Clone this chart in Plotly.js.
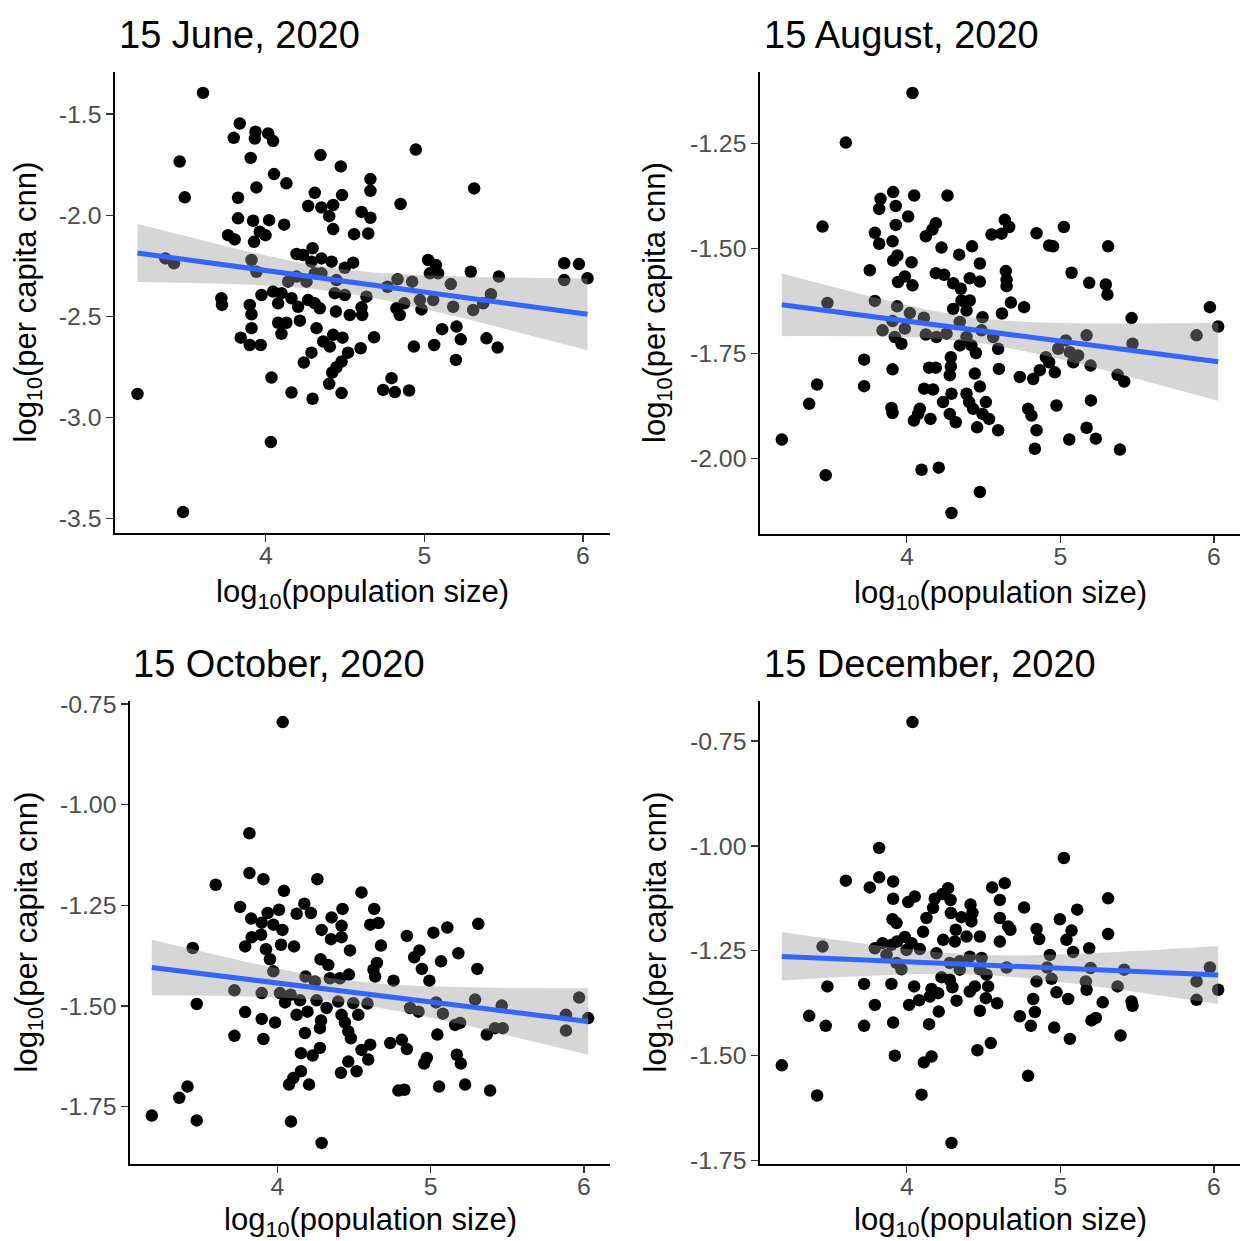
<!DOCTYPE html>
<html><head><meta charset="utf-8">
<script src="https://cdn.plot.ly/plotly-3.0.1.min.js"></script>
<style>html,body{margin:0;padding:0;background:#fff}#chart{width:1241px;height:1241px}</style>
</head><body><div id="chart"></div>
<script>
// ---------------- data ----------------
const panelTitles = ["15 June, 2020", "15 August, 2020", "15 October, 2020", "15 December, 2020"];
const xAxisLabel = "log<sub>10</sub>(population size)";
const yAxisLabel = "log<sub>10</sub>(per capita cnn)";

const juneX = [3.604,3.836,3.798,3.935,3.931,4.015,4.046,3.457,3.905,4.345,
4.473,3.489,4.052,4.130,3.941,3.825,4.309,4.481,4.267,4.351,
4.425,4.400,4.604,3.825,3.920,4.021,4.116,4.425,4.557,3.762,
3.804,3.962,3.998,3.926,3.367,3.421,3.910,3.941,4.194,4.235,
4.295,4.288,4.351,4.415,4.498,4.551,4.194,4.141,4.257,4.309,
4.351,4.446,3.973,4.046,4.099,3.720,3.724,3.899,3.910,4.078,
4.162,4.204,4.267,4.309,4.341,4.435,4.498,4.442,4.530,4.604,
4.078,4.130,4.215,4.099,4.320,3.910,3.842,3.899,3.968,4.362,
4.425,4.484,4.404,4.598,4.288,4.240,4.519,4.478,4.446,4.419,
4.400,4.036,3.191,4.162,4.295,4.478,4.032,3.478,
4.946,4.660,4.660,4.850,5.314,4.660,4.646,5.024,5.073,5.035,
5.087,5.293,5.470,5.882,5.975,5.882,6.029,4.831,4.768,4.923,
5.167,4.635,4.608,4.824,4.873,4.845,4.972,4.982,5.056,5.182,
5.308,5.371,5.420,4.683,4.934,5.062,5.112,5.203,5.230,5.392,
5.462,5.199,4.793,4.740,4.814,4.904];
const juneY = [-1.395,-1.546,-1.617,-1.587,-1.620,-1.595,-1.633,-1.734,-1.716,-1.702,
-1.758,-1.911,-1.796,-1.842,-1.862,-1.913,-1.889,-1.900,-1.954,-1.961,
-1.949,-2.004,-1.983,-2.015,-2.027,-2.024,-2.046,-2.068,-2.093,-2.098,
-2.119,-2.081,-2.098,-2.131,-2.213,-2.237,-2.221,-2.279,-2.191,-2.196,
-2.163,-2.229,-2.213,-2.229,-2.259,-2.234,-2.303,-2.328,-2.328,-2.287,
-2.287,-2.320,-2.394,-2.377,-2.385,-2.410,-2.443,-2.443,-2.489,-2.435,
-2.410,-2.452,-2.419,-2.435,-2.460,-2.385,-2.394,-2.476,-2.493,-2.455,
-2.531,-2.531,-2.521,-2.586,-2.558,-2.558,-2.605,-2.641,-2.641,-2.624,
-2.591,-2.605,-2.649,-2.657,-2.679,-2.728,-2.679,-2.723,-2.751,-2.777,
-2.833,-2.802,-2.883,-2.876,-2.907,-2.879,-3.121,-3.467,
-1.675,-1.821,-1.879,-1.944,-1.867,-2.012,-2.090,-2.221,-2.246,-2.287,
-2.287,-2.279,-2.303,-2.237,-2.241,-2.320,-2.311,-2.316,-2.353,-2.328,
-2.340,-2.402,-2.493,-2.460,-2.435,-2.493,-2.419,-2.465,-2.419,-2.452,
-2.468,-2.435,-2.390,-2.603,-2.649,-2.641,-2.563,-2.550,-2.613,-2.608,
-2.654,-2.715,-2.805,-2.863,-2.874,-2.866];

const augX = [4.037,3.603,3.451,3.911,4.048,4.265,3.829,3.820,3.928,4.009,
3.928,3.792,3.820,3.907,4.189,4.167,4.124,4.226,4.341,4.425,
4.552,3.911,3.939,4.031,3.759,3.943,3.987,4.037,4.189,4.243,
4.476,4.302,4.352,4.410,4.476,4.410,4.356,4.302,4.389,3.483,
3.792,3.937,4.020,4.111,4.493,4.620,3.842,3.907,3.987,3.922,
3.965,4.124,4.193,4.259,4.345,4.345,4.389,4.421,4.450,4.487,
4.563,4.595,3.722,3.907,4.145,4.189,4.287,4.287,4.443,4.600,
3.722,3.416,3.364,4.280,4.113,4.171,4.291,4.476,4.236,4.389,
4.406,4.515,3.900,3.907,4.085,4.074,4.046,4.154,4.280,4.319,
4.432,4.493,4.536,4.458,4.595,3.186,3.472,4.096,4.208,4.476,
4.291,4.638,4.667,4.617,4.845,5.023,4.927,4.953,5.311,4.645,
4.650,4.650,5.073,5.188,5.296,5.307,4.678,4.764,5.464,5.974,
6.028,5.887,5.171,5.470,5.036,4.986,5.062,5.116,5.084,4.906,
4.927,4.866,4.964,4.736,4.823,5.197,5.373,5.416,4.790,4.812,
4.975,5.199,4.845,4.834,5.058,5.171,5.231,5.388];
const augY = [-1.130,-1.248,-1.448,-1.366,-1.374,-1.374,-1.382,-1.406,-1.399,-1.424,
-1.444,-1.463,-1.489,-1.483,-1.440,-1.455,-1.471,-1.498,-1.515,-1.495,
-1.467,-1.529,-1.517,-1.533,-1.552,-1.580,-1.567,-1.588,-1.559,-1.563,
-1.536,-1.583,-1.596,-1.571,-1.579,-1.624,-1.624,-1.644,-1.648,-1.630,
-1.625,-1.638,-1.654,-1.665,-1.664,-1.655,-1.695,-1.673,-1.691,-1.711,
-1.727,-1.705,-1.711,-1.703,-1.675,-1.731,-1.711,-1.731,-1.749,-1.695,
-1.711,-1.739,-1.765,-1.788,-1.784,-1.784,-1.759,-1.781,-1.798,-1.787,
-1.828,-1.824,-1.870,-1.802,-1.834,-1.836,-1.846,-1.829,-1.866,-1.846,
-1.866,-1.866,-1.880,-1.892,-1.882,-1.894,-1.910,-1.906,-1.894,-1.914,
-1.882,-1.894,-1.906,-1.926,-1.933,-1.955,-2.040,-2.027,-2.022,-2.080,
-2.130,-1.432,-1.449,-1.465,-1.464,-1.449,-1.493,-1.495,-1.495,-1.554,
-1.575,-1.590,-1.558,-1.582,-1.586,-1.610,-1.629,-1.640,-1.666,-1.640,
-1.686,-1.707,-1.707,-1.727,-1.719,-1.739,-1.747,-1.755,-1.771,-1.759,
-1.771,-1.790,-1.795,-1.806,-1.811,-1.779,-1.801,-1.817,-1.882,-1.898,
-1.874,-1.862,-1.933,-1.977,-1.955,-1.927,-1.953,-1.979];

const octX = [4.035,3.818,3.818,3.909,3.598,4.261,4.043,4.549,3.757,3.937,
4.011,3.829,3.898,3.974,4.033,4.126,4.176,4.219,4.354,4.425,
4.419,4.289,4.350,4.419,3.833,3.894,3.790,4.024,4.109,4.474,
3.926,3.952,4.282,4.332,3.974,3.448,4.184,4.245,4.343,4.408,
4.467,3.720,3.898,4.017,4.087,4.050,4.148,4.256,4.321,4.397,
4.495,4.588,3.474,3.790,3.898,3.985,4.126,4.197,4.419,4.528,
4.441,4.285,4.278,4.180,4.463,4.480,3.720,3.909,4.278,4.154,
4.230,4.549,4.593,4.463,4.415,4.517,4.154,4.104,4.076,4.207,
3.414,3.360,3.181,3.474,4.089,4.289,4.632,4.606,4.660,4.845,
5.018,5.109,5.311,4.676,4.927,4.893,5.068,5.181,4.650,4.627,
4.638,4.943,4.992,4.758,5.305,5.290,5.036,4.866,4.921,5.080,
5.464,5.160,5.192,5.366,5.420,5.470,5.044,5.969,5.883,6.028,
5.883,4.606,4.736,4.812,4.845,4.975,4.958,5.171,5.197,4.790,
4.829,5.055,5.225,5.388];
const octY = [-0.795,-1.071,-1.170,-1.185,-1.199,-1.185,-1.214,-1.218,-1.254,-1.269,
-1.261,-1.283,-1.293,-1.298,-1.311,-1.271,-1.246,-1.269,-1.280,-1.259,
-1.301,-1.311,-1.334,-1.329,-1.329,-1.323,-1.352,-1.348,-1.352,-1.362,
-1.359,-1.384,-1.384,-1.398,-1.414,-1.356,-1.427,-1.439,-1.431,-1.431,
-1.422,-1.461,-1.468,-1.468,-1.472,-1.491,-1.486,-1.486,-1.505,-1.489,
-1.493,-1.494,-1.495,-1.515,-1.532,-1.541,-1.522,-1.514,-1.522,-1.522,
-1.541,-1.536,-1.555,-1.567,-1.563,-1.580,-1.574,-1.582,-1.604,-1.617,
-1.623,-1.609,-1.633,-1.638,-1.666,-1.662,-1.662,-1.679,-1.695,-1.695,
-1.700,-1.728,-1.772,-1.784,-1.787,-1.840,-1.259,-1.298,-1.294,-1.326,
-1.318,-1.305,-1.296,-1.350,-1.362,-1.379,-1.389,-1.369,-1.393,-1.410,
-1.427,-1.408,-1.437,-1.437,-1.408,-1.484,-1.491,-1.505,-1.514,-1.519,
-1.499,-1.547,-1.542,-1.571,-1.555,-1.555,-1.571,-1.479,-1.522,-1.530,
-1.561,-1.596,-1.592,-1.584,-1.607,-1.629,-1.643,-1.621,-1.643,-1.710,
-1.708,-1.700,-1.695,-1.710];

const decX = [4.037,3.820,3.603,3.820,3.911,3.759,3.911,4.009,4.052,4.269,
4.182,4.232,4.285,4.171,4.556,4.606,4.128,4.287,4.356,4.415,
4.428,4.606,3.907,3.933,4.106,4.319,4.421,4.237,4.313,4.389,
4.476,4.606,3.451,3.792,3.842,3.900,3.937,3.987,4.031,4.085,
4.193,3.998,3.933,3.965,3.868,4.280,4.345,4.410,4.487,4.345,
4.476,4.519,4.226,4.280,3.483,3.722,3.900,4.048,4.161,4.297,
4.410,4.443,4.530,4.204,4.150,4.080,4.015,4.324,4.515,4.588,
3.792,4.208,4.476,3.364,3.472,3.722,3.911,4.145,4.547,4.460,
3.922,4.161,4.111,3.186,3.416,4.096,4.291,5.023,4.638,4.764,
5.311,5.110,4.660,4.675,4.997,4.845,4.862,5.073,5.040,5.311,
5.188,5.083,4.932,4.650,4.914,5.197,5.416,5.974,4.943,4.845,
5.166,5.887,6.028,5.171,5.373,4.975,5.051,4.823,5.887,5.276,
5.464,5.470,4.834,4.736,4.808,4.960,5.203,5.231,5.062,5.392,4.790];
const decY = [-0.705,-1.005,-1.083,-1.075,-1.085,-1.099,-1.126,-1.134,-1.121,-1.101,
-1.126,-1.115,-1.129,-1.148,-1.099,-1.129,-1.172,-1.160,-1.170,-1.140,
-1.160,-1.172,-1.175,-1.184,-1.205,-1.200,-1.180,-1.224,-1.228,-1.216,
-1.216,-1.228,-1.240,-1.244,-1.232,-1.236,-1.228,-1.217,-1.232,-1.246,
-1.256,-1.248,-1.279,-1.294,-1.260,-1.279,-1.275,-1.264,-1.267,-1.295,
-1.294,-1.307,-1.313,-1.319,-1.335,-1.329,-1.329,-1.335,-1.341,-1.337,
-1.347,-1.335,-1.335,-1.351,-1.359,-1.368,-1.379,-1.369,-1.363,-1.375,
-1.379,-1.395,-1.393,-1.405,-1.429,-1.429,-1.421,-1.425,-1.470,-1.487,
-1.500,-1.502,-1.516,-1.523,-1.595,-1.593,-1.708,-1.029,-1.089,-1.147,
-1.125,-1.152,-1.192,-1.200,-1.175,-1.198,-1.222,-1.202,-1.224,-1.210,
-1.244,-1.253,-1.260,-1.290,-1.290,-1.291,-1.295,-1.290,-1.317,-1.323,
-1.323,-1.323,-1.343,-1.343,-1.335,-1.349,-1.365,-1.365,-1.367,-1.373,
-1.371,-1.381,-1.396,-1.406,-1.429,-1.433,-1.416,-1.410,-1.460,-1.452,-1.548];

const xTickVals = [4, 5, 6];
const xTickText = ["4", "5", "6"];
const juneTickVals = [-3.5, -3.0, -2.5, -2.0, -1.5];
const juneTickText = ["-3.5", "-3.0", "-2.5", "-2.0", "-1.5"];
const augTickVals = [-2.0, -1.75, -1.5, -1.25];
const augTickText = ["-2.00", "-1.75", "-1.50", "-1.25"];
const octTickVals = [-1.75, -1.5, -1.25, -1.0, -0.75];
const octTickText = ["-1.75", "-1.50", "-1.25", "-1.00", "-0.75"];
const decTickVals = [-1.75, -1.5, -1.25, -1.0, -0.75];
const decTickText = ["-1.75", "-1.50", "-1.25", "-1.00", "-0.75"];

// ---------------- helpers ----------------
function tQuant975(df) {
  const z = 1.959964;
  const g1 = (Math.pow(z, 3) + z) / 4;
  const g2 = (5 * Math.pow(z, 5) + 16 * Math.pow(z, 3) + 3 * z) / 96;
  return z + g1 / df + g2 / (df * df);
}
function lmFit(x, y) {
  const n = Math.min(x.length, y.length);
  let mx = 0, my = 0;
  for (let i = 0; i < n; i++) { mx += x[i]; my += y[i]; }
  mx /= n; my /= n;
  let sxx = 0, sxy = 0;
  for (let i = 0; i < n; i++) { sxx += (x[i] - mx) ** 2; sxy += (x[i] - mx) * (y[i] - my); }
  const b = sxy / sxx, a = my - b * mx;
  let ss = 0;
  for (let i = 0; i < n; i++) { ss += (y[i] - a - b * x[i]) ** 2; }
  const s = Math.sqrt(ss / (n - 2));
  const t = tQuant975(n - 2);
  const xmin = Math.min(...x.slice(0, n)), xmax = Math.max(...x.slice(0, n));
  const xs = [], yh = [], lo = [], hi = [];
  const m = 80;
  for (let k = 0; k < m; k++) {
    const xv = xmin + (xmax - xmin) * k / (m - 1);
    const yv = a + b * xv;
    const se = s * Math.sqrt(1 / n + (xv - mx) ** 2 / sxx);
    xs.push(xv); yh.push(yv); lo.push(yv - t * se); hi.push(yv + t * se);
  }
  return { xs, yh, lo, hi };
}
function expRange(v) {
  const mn = Math.min(...v), mx = Math.max(...v), d = mx - mn;
  return [mn - 0.05 * d, mx + 0.05 * d];
}

// ---------------- layout geometry ----------------
const W = 1241, H = 1241;
const FONT = "Liberation Sans, Arial, Helvetica, sans-serif";
// [left, top, right, bottom] in px
const boxes = [[115, 72, 610, 533], [760, 72, 1240, 534], [130, 701, 610, 1164], [760, 701, 1240, 1164]];
const px = v => v / W;
const py = v => 1 - v / H;

const panels = [
  { x: juneX, y: juneY, tv: juneTickVals, tt: juneTickText },
  { x: augX, y: augY, tv: augTickVals, tt: augTickText },
  { x: octX, y: octY, tv: octTickVals, tt: octTickText },
  { x: decX, y: decY, tv: decTickVals, tt: decTickText }
];

const traces = [];
const layout = {
  width: W, height: H, margin: { l: 0, r: 0, t: 0, b: 0 },
  paper_bgcolor: "#fff", plot_bgcolor: "#fff",
  showlegend: false, hovermode: false,
  font: { family: FONT, color: "#000" },
  annotations: []
};

const titleLeft = [117, 762, 131, 762];
const titleCy = [35, 35, 664, 664];
const yTitleCx = [28, 657, 28, 657];
const xTitleOffset = [61, 61, 58, 58];

panels.forEach((p, i) => {
  const k = i + 1;
  const xa = "x" + (k === 1 ? "" : k), ya = "y" + (k === 1 ? "" : k);
  const b = boxes[i];
  const f = lmFit(p.x, p.y);

  traces.push({ type: "scatter", mode: "markers", x: p.x.slice(0, p.y.length), y: p.y, xaxis: xa, yaxis: ya,
    marker: { color: "#000", size: 12.5, line: { width: 0 } }, cliponaxis: false });
  traces.push({ type: "scatter", mode: "lines", x: f.xs.concat(f.xs.slice().reverse()),
    y: f.hi.concat(f.lo.slice().reverse()), xaxis: xa, yaxis: ya,
    fill: "toself", fillcolor: "rgba(153,153,153,0.4)", line: { width: 0, color: "rgba(0,0,0,0)" } });
  traces.push({ type: "scatter", mode: "lines", x: f.xs, y: f.yh, xaxis: xa, yaxis: ya,
    line: { color: "#3366FF", width: 5 } });

  const common = {
    showline: true, linecolor: "#000", linewidth: 1.6, mirror: false,
    ticks: "outside", ticklen: 7, tickwidth: 1.4, tickcolor: "#333",
    showgrid: false, zeroline: false, automargin: false, fixedrange: true,
    tickfont: { family: FONT, size: 24.8, color: "#4D4D4D" }
  };
  layout["xaxis" + (k === 1 ? "" : k)] = Object.assign({}, common, {
    domain: [px(b[0]), px(b[2])], range: expRange(p.x), anchor: ya,
    tickmode: "array", tickvals: xTickVals, ticktext: xTickText, ticklabelstandoff: -7
  });
  layout["yaxis" + (k === 1 ? "" : k)] = Object.assign({}, common, {
    domain: [py(b[3]), py(b[1])], range: expRange(p.y), anchor: xa,
    tickmode: "array", tickvals: p.tv, ticktext: p.tt
  });

  layout.annotations.push({ text: panelTitles[i], xref: "paper", yref: "paper",
    x: px(titleLeft[i]), y: py(titleCy[i]), xanchor: "left", yanchor: "middle", showarrow: false,
    font: { family: FONT, size: 38, color: "#000" } });
  layout.annotations.push({ text: xAxisLabel, xref: "paper", yref: "paper",
    x: px((b[0] + b[2]) / 2), y: py(b[3] + xTitleOffset[i]), xanchor: "center", yanchor: "middle", showarrow: false,
    font: { family: FONT, size: 31, color: "#000" } });
  layout.annotations.push({ text: yAxisLabel, xref: "paper", yref: "paper", textangle: -90,
    x: px(yTitleCx[i]), y: py((b[1] + b[3]) / 2), xanchor: "center", yanchor: "middle", showarrow: false,
    font: { family: FONT, size: 31, color: "#000" } });
});

Plotly.newPlot("chart", traces, layout, { staticPlot: true, displayModeBar: false });
</script>
</body></html>
